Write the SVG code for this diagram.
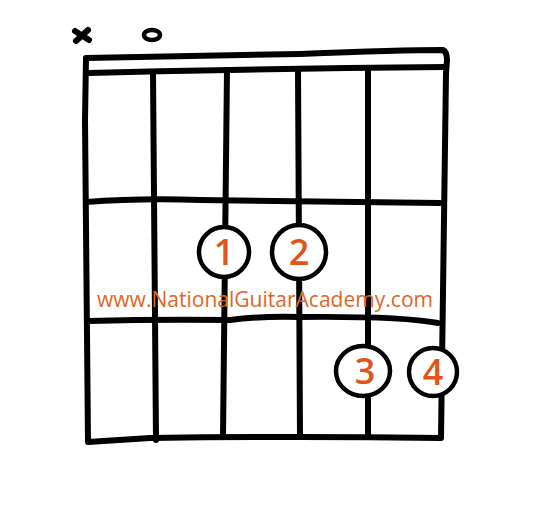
<svg xmlns="http://www.w3.org/2000/svg" width="545" height="521" viewBox="0 0 545 521">
<style>
.ln{fill:none;stroke:#000;stroke-width:6;stroke-linecap:round;stroke-linejoin:round}
.dot{fill:#fff;stroke:#000;stroke-width:4.5}
.num{font-family:"Open Sans","DejaVu Sans",sans-serif;font-size:36px;font-weight:600;fill:#e0561a;text-anchor:middle}
.wm{font-family:"Open Sans","DejaVu Sans",sans-serif;font-size:21px;fill:#e0661f}
</style>
<rect width="545" height="521" fill="#fff"/>
<g id="markers">
<path class="ln" d="M75 31 L89 40 M88 30 L76 41"/>
<ellipse cx="152" cy="35" rx="8" ry="5" fill="none" stroke="#000" stroke-width="4.5"/>
</g>
<g id="grid">
<path class="ln" d="M88 442 L85 120 L86 58 Q200 56 300 54 Q400 50 443 50 Q447 52 447 60 L446 73 L441 438 Q300 436 150 438 Z"/>
<path class="ln" d="M89 73 Q160 71 230 70 Q330 68 446 67"/>
<path class="ln" d="M153 73 L156 440"/>
<path class="ln" d="M227 70 L223 437"/>
<path class="ln" d="M298 69 L300 436"/>
<path class="ln" d="M368 68 L368 437"/>
<path class="ln" d="M86 202 Q140 198 200 200 Q300 201 440 203"/>
<path class="ln" d="M88 321 Q160 319 230 320 Q260 316 300 317 Q400 316 438 323"/>
</g>
<text class="wm" x="97" y="307" textLength="336" lengthAdjust="spacingAndGlyphs">www.NationalGuitarAcademy.com</text>
<g id="f1"><ellipse class="dot" cx="224" cy="252" rx="25" ry="25"/><text class="num" x="224" y="265">1</text></g>
<g id="f2"><ellipse class="dot" cx="299" cy="252" rx="27" ry="27"/><text class="num" x="299" y="265">2</text></g>
<g id="f3"><ellipse class="dot" cx="363" cy="371" rx="27" ry="25"/><text class="num" x="365" y="384">3</text></g>
<g id="f4"><ellipse class="dot" cx="433" cy="372" rx="24" ry="24"/><text class="num" x="433" y="385">4</text></g>
</svg>
